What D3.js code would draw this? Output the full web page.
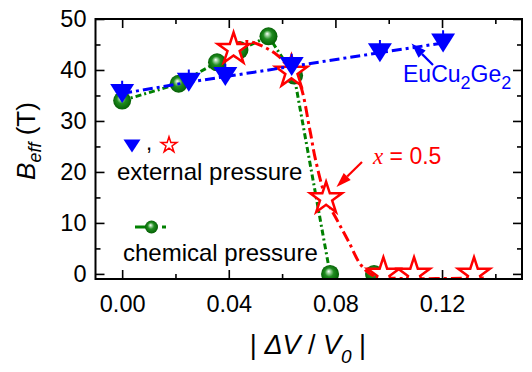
<!DOCTYPE html>
<html lang="en">
<head>
<meta charset="utf-8">
<title>Beff vs volume</title>
<style type="text/css">
  body { margin: 0; background: #fff; }
  text { font-family: "Liberation Sans", Arial, sans-serif; }
</style>
</head>
<body>
<script src="https://d3js.org/d3.v7.min.js"></script>
<script>

    // external pressure, EuCu2Ge2 (blue triangles)
    var extX = [0.000, 0.025, 0.0387, 0.0636, 0.0967, 0.1204];
    var extY = [35.4, 37.6, 38.7, 40.7, 43.4, 45.3];
    var extErr = [2.5, 2.5, 2.5, 2.5, 2.5, 2.5];

    // external pressure, x = 0.5 (red stars)
    var redX = [0.0418, 0.0635, 0.0765, 0.098, 0.1095, 0.132];
    var redY = [44.1, 39.6, 14.8, 0, 0, 0];
    // guide line drawn through the red stars
    var redGuideX = [0.041, 0.047, 0.058, 0.0635, 0.0665, 0.0705, 0.0725, 0.0765, 0.081, 0.085, 0.0895, 0.094, 0.100, 0.137];
    var redGuideY = [44.5, 45.6, 43.0, 39.6, 37.5, 28.0, 22.5, 14.8, 10.2, 6.3, 1.8, -0.3, -0.8, -0.8];

    // chemical pressure (green spheres)
    var chemX = [0.000, 0.0212, 0.0356, 0.044, 0.0549, 0.0645, 0.078, 0.0945];
    var chemY = [34.0, 37.3, 41.5, 43.9, 46.6, 38.9, 0.0, 0.0];
    var chemLineCount = 7; // last sphere is not joined

    var xMajor = [0.00, 0.04, 0.08, 0.12];
    var xMinor = [0.02, 0.06, 0.10, 0.14];
    var yMajor = [0, 10, 20, 30, 40, 50];
    var yMinor = [5, 15, 25, 35, 45];

    var W = 532, H = 372;
    var margin = {top: 19, right: 10, bottom: 93, left: 95.5},
        width = W - margin.left - margin.right,
        height = H - margin.top - margin.bottom;

    var svg = d3.select("body").append("svg")
        .attr("width", W)
        .attr("height", H);

    var defs = svg.append("defs");
    defs.append("clipPath").attr("id", "plotclip")
        .append("rect").attr("x", 0).attr("y", 0)
        .attr("width", width).attr("height", height);

    var grad = defs.append("radialGradient").attr("id", "sphere")
        .attr("cx", "50%").attr("cy", "50%").attr("r", "55%")
        .attr("fx", "42%").attr("fy", "35%");
    grad.append("stop").attr("offset", "0%").attr("stop-color", "#ffffff");
    grad.append("stop").attr("offset", "18%").attr("stop-color", "#9fd39f");
    grad.append("stop").attr("offset", "45%").attr("stop-color", "#1f8c1f");
    grad.append("stop").attr("offset", "100%").attr("stop-color", "#005800");

    var g = svg.append("g")
        .attr("transform", "translate(" + margin.left + "," + margin.top + ")");

    var x = d3.scaleLinear().domain([-0.01, 0.15]).range([0, width]);
    var y = d3.scaleLinear().domain([-1, 50]).range([height, 0]);

    // axes, ticks pointing inward
    function tickStyle(sel) {
        sel.select(".domain").remove();
        sel.selectAll("line").attr("stroke", "#000").attr("stroke-width", 1.6);
        sel.selectAll("text").attr("font-size", "23.5px").attr("fill", "#000")
            .attr("font-family", "Liberation Sans, Arial, sans-serif");
    }

    g.append("g").attr("transform", "translate(0," + height + ")")
        .call(d3.axisBottom(x).tickValues(xMajor).tickSize(-9).tickPadding(16).tickFormat(d3.format(".2f")))
        .call(tickStyle);
    g.append("g").attr("transform", "translate(0," + height + ")")
        .call(d3.axisBottom(x).tickValues(xMinor).tickSize(-5).tickFormat(""))
        .call(tickStyle);
    g.append("g")
        .call(d3.axisTop(x).tickValues(xMajor).tickSize(-9).tickFormat(""))
        .call(tickStyle);
    g.append("g")
        .call(d3.axisTop(x).tickValues(xMinor).tickSize(-5).tickFormat(""))
        .call(tickStyle);

    g.append("g")
        .call(d3.axisLeft(y).tickValues(yMajor).tickSize(-9).tickPadding(9))
        .call(tickStyle);
    g.append("g")
        .call(d3.axisLeft(y).tickValues(yMinor).tickSize(-5).tickFormat(""))
        .call(tickStyle);
    g.append("g").attr("transform", "translate(" + width + ",0)")
        .call(d3.axisRight(y).tickValues(yMajor).tickSize(-9).tickFormat(""))
        .call(tickStyle);
    g.append("g").attr("transform", "translate(" + width + ",0)")
        .call(d3.axisRight(y).tickValues(yMinor).tickSize(-5).tickFormat(""))
        .call(tickStyle);

    var plot = g.append("g").attr("clip-path", "url(#plotclip)");

    // green: chemical pressure
    var chemPts = chemX.map(function(d, i) { return [d, chemY[i]]; });
    var line = d3.line().x(function(d) { return x(d[0]); }).y(function(d) { return y(d[1]); });

    plot.append("path")
        .datum(chemPts.slice(0, chemLineCount))
        .attr("d", line)
        .attr("fill", "none").attr("stroke", "#008000").attr("stroke-width", 3)
        .attr("stroke-dasharray", "6,3,2,3");

    plot.selectAll("circle.chem")
        .data(chemPts)
        .enter().append("circle")
        .attr("class", "chem")
        .attr("cx", function(d) { return x(d[0]); })
        .attr("cy", function(d) { return y(d[1]); })
        .attr("r", 9)
        .attr("fill", "url(#sphere)");

    // red: x = 0.5
    var redGuide = redGuideX.map(function(d, i) { return [d, redGuideY[i]]; });
    plot.append("path")
        .datum(redGuide)
        .attr("d", line.curve(d3.curveCatmullRom))
        .attr("fill", "none").attr("stroke", "#ff0000").attr("stroke-width", 3)
        .attr("stroke-dasharray", "11,4,3,4");
    line.curve(d3.curveLinear);

    function starPath(R) {
        var r = R * 0.382, p = [];
        for (var k = 0; k < 10; k++) {
            var a = -Math.PI / 2 + k * Math.PI / 5;
            var rr = (k % 2 === 0) ? R : r;
            p.push([rr * Math.cos(a), rr * Math.sin(a)]);
        }
        return "M" + p.map(function(q) { return q[0].toFixed(2) + "," + q[1].toFixed(2); }).join("L") + "Z";
    }

    plot.selectAll("path.star")
        .data(redX.map(function(d, i) { return [d, redY[i]]; }))
        .enter().append("path")
        .attr("class", "star")
        .attr("d", starPath(16.7))
        .attr("transform", function(d) { return "translate(" + x(d[0]) + "," + y(d[1]) + ")"; })
        .attr("fill", "#fff").attr("stroke", "#ff0000").attr("stroke-width", 2.5)
        .attr("stroke-linejoin", "miter");

    // blue: EuCu2Ge2
    var extPts = extX.map(function(d, i) { return [d, extY[i], extErr[i]]; });
    plot.append("path")
        .datum(extPts)
        .attr("d", line)
        .attr("fill", "none").attr("stroke", "#0000ff").attr("stroke-width", 3)
        .attr("stroke-dasharray", "10,4,3,4");

    plot.selectAll("line.err")
        .data(extPts)
        .enter().append("line")
        .attr("class", "err")
        .attr("x1", function(d) { return x(d[0]); })
        .attr("x2", function(d) { return x(d[0]); })
        .attr("y1", function(d) { return y(d[1]); })
        .attr("y2", function(d) { return y(d[1] + d[2]); })
        .attr("stroke", "#0000ff").attr("stroke-width", 2);

    var triPath = "M-12,-9.5L12,-9.5L0,9.5Z";
    plot.selectAll("path.tri")
        .data(extPts)
        .enter().append("path")
        .attr("class", "tri")
        .attr("d", triPath)
        .attr("transform", function(d) { return "translate(" + x(d[0]) + "," + y(d[1]) + ")"; })
        .attr("fill", "#0000ff");

    // frame
    g.append("rect")
        .attr("width", width).attr("height", height)
        .attr("fill", "none").attr("stroke", "#000").attr("stroke-width", 2);

    // legend-like annotations
    svg.append("path").attr("d", "M-8.5,-6.5L8.5,-6.5L0,6.5Z")
        .attr("transform", "translate(132,146)").attr("fill", "#0000ff");
    svg.append("text").attr("x", 146).attr("y", 150).attr("font-size", "22px").text(",");
    svg.append("path").attr("d", starPath(8.3))
        .attr("transform", "translate(169,145)")
        .attr("fill", "#fff").attr("stroke", "#ff0000").attr("stroke-width", 1.5);
    svg.append("text").attr("x", 117).attr("y", 180).attr("font-size", "24px")
        .attr("fill", "#000").text("external pressure");

    svg.append("line").attr("x1", 135).attr("x2", 157).attr("y1", 227).attr("y2", 227)
        .attr("stroke", "#008000").attr("stroke-width", 3);
    svg.append("line").attr("x1", 162).attr("x2", 166).attr("y1", 227).attr("y2", 227)
        .attr("stroke", "#008000").attr("stroke-width", 3);
    svg.append("circle").attr("cx", 151.5).attr("cy", 227).attr("r", 6.5).attr("fill", "url(#sphere)");
    svg.append("text").attr("x", 123).attr("y", 261).attr("font-size", "24px")
        .attr("fill", "#000").text("chemical pressure");

    function arrow(x1, y1, x2, y2, color) {
        var a = Math.atan2(y2 - y1, x2 - x1), L = 15, hw = 5;
        var bx = x2 - L * Math.cos(a), by = y2 - L * Math.sin(a);
        svg.append("line").attr("x1", x1).attr("y1", y1).attr("x2", bx).attr("y2", by)
            .attr("stroke", color).attr("stroke-width", 2.2);
        svg.append("path")
            .attr("d", "M" + x2 + "," + y2 +
                "L" + (bx + hw * Math.sin(a)) + "," + (by - hw * Math.cos(a)) +
                "L" + (bx - hw * Math.sin(a)) + "," + (by + hw * Math.cos(a)) + "Z")
            .attr("fill", color);
    }

    var xl = svg.append("text").attr("x", 373).attr("y", 164).attr("fill", "#ff0000").attr("font-size", "23px");
    xl.append("tspan").attr("font-family", "Liberation Serif, Times New Roman, serif").attr("font-style", "italic").text("x");
    xl.append("tspan").text(" = 0.5");
    arrow(362, 162, 336.5, 187, "#ff0000");

    var eu = svg.append("text").attr("x", 403).attr("y", 82).attr("fill", "#0000ff").attr("font-size", "23px");
    eu.append("tspan").text("EuCu");
    eu.append("tspan").attr("font-size", "18px").attr("dy", 7).text("2");
    eu.append("tspan").attr("dy", -7).text("Ge");
    eu.append("tspan").attr("font-size", "18px").attr("dy", 7).text("2");
    arrow(433, 65, 411.5, 43.5, "#0000ff");

    // axis titles
    var xt = svg.append("text").attr("x", 308).attr("y", 354).attr("text-anchor", "middle")
        .attr("font-size", "27px").attr("fill", "#000");
    xt.append("tspan").text("| ");
    xt.append("tspan").attr("font-style", "italic").text("\u0394V");
    xt.append("tspan").text(" / ");
    xt.append("tspan").attr("font-style", "italic").text("V");
    xt.append("tspan").attr("font-style", "italic").attr("font-size", "19px").attr("dy", 9).text("0");
    xt.append("tspan").attr("dy", -9).text(" |");

    var yt = svg.append("text").attr("transform", "translate(35,141) rotate(-90)")
        .attr("text-anchor", "middle").attr("font-size", "26px").attr("fill", "#000");
    yt.append("tspan").attr("font-style", "italic").text("B");
    yt.append("tspan").attr("font-style", "italic").attr("font-size", "18px").attr("dy", 6).text("eff");
    yt.append("tspan").attr("dy", -6).text(" (T)");

</script>
</body>
</html>
